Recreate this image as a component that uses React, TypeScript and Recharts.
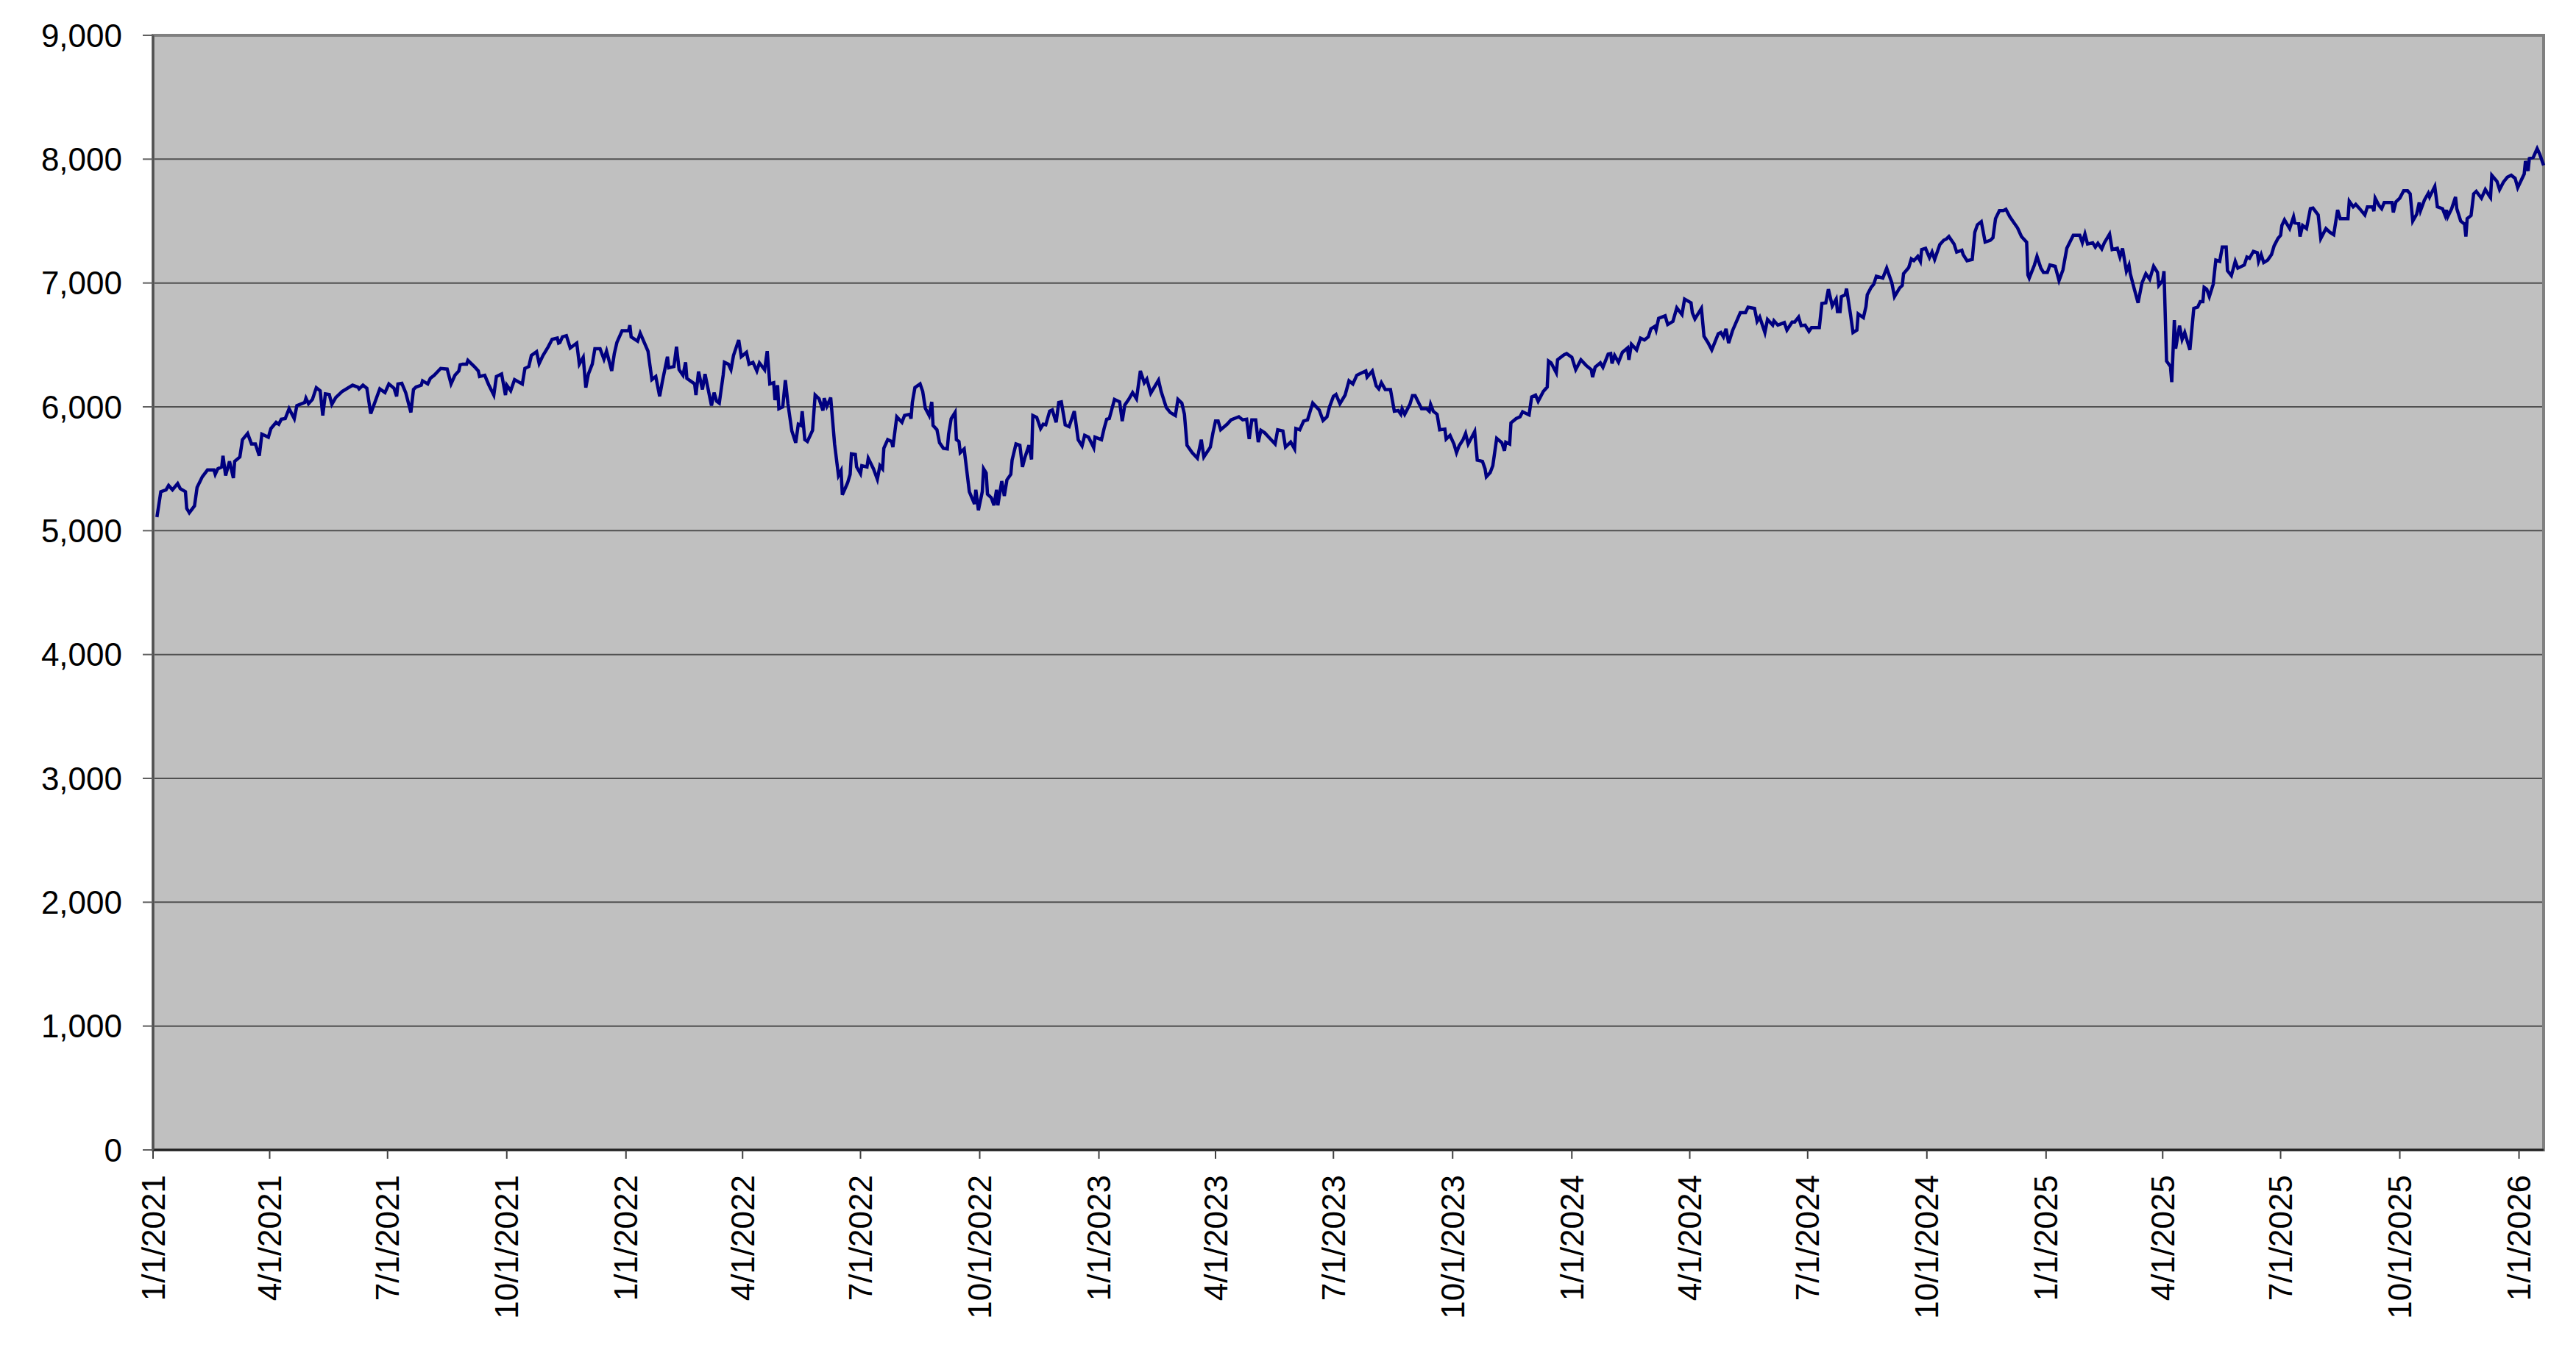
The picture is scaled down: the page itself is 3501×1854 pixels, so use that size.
import React from "react";
import { LineChart, Line, XAxis, YAxis, CartesianGrid, ReferenceArea } from "recharts";

// day offset from 1/1/2021, close value
const closes: [number, number][] = [
  [3, 5110], [6, 5315], [10, 5330], [12, 5365], [15, 5330], [19, 5380], [21, 5340], [25, 5315], [26, 5180], [28, 5145],
  [32, 5200], [34, 5350], [38, 5435], [42, 5490], [47, 5490], [48, 5455], [50, 5500], [53, 5515], [54, 5605], [56, 5445],
  [59, 5560], [62, 5425], [63, 5560], [67, 5595], [69, 5735], [73, 5785], [76, 5700], [79, 5700], [82, 5605], [84, 5780],
  [89, 5755], [91, 5825], [95, 5875], [97, 5860], [99, 5900], [102, 5905], [105, 5985], [109, 5905], [111, 6010], [117, 6035],
  [118, 6070], [120, 6025], [123, 6060], [126, 6155], [129, 6130], [131, 5930], [133, 6105], [136, 6100], [138, 6020], [141, 6075],
  [146, 6125], [154, 6175], [158, 6160], [159, 6145], [162, 6175], [165, 6150], [168, 5945], [172, 6060], [175, 6145], [179, 6115],
  [182, 6185], [186, 6150], [188, 6085], [189, 6185], [192, 6190], [195, 6115], [199, 5955], [201, 6140], [203, 6160], [207, 6175],
  [208, 6210], [212, 6185], [214, 6230], [217, 6255], [222, 6310], [227, 6305], [230, 6185], [233, 6255], [236, 6290], [237, 6340],
  [239, 6345], [242, 6345], [243, 6375], [248, 6325], [251, 6290], [252, 6245], [256, 6255], [259, 6180], [263, 6095], [265, 6245],
  [269, 6265], [272, 6095], [273, 6175], [276, 6130], [279, 6220], [285, 6185], [287, 6310], [290, 6325], [292, 6415], [296, 6445],
  [298, 6350], [301, 6415], [305, 6485], [308, 6545], [312, 6555], [313, 6515],
  [314, 6520], [316, 6565], [319, 6575], [322, 6475], [327, 6515], [329, 6345], [332, 6400], [334, 6155], [336, 6265], [339, 6345],
  [341, 6470], [345, 6470], [348, 6385], [350, 6450], [354, 6290], [356, 6430], [358, 6520], [362, 6615], [367, 6615], [368, 6660],
  [369, 6565], [374, 6530], [376, 6595], [382, 6450], [385, 6220], [388, 6245], [391, 6085], [393, 6200], [397, 6405], [398, 6315],
  [402, 6325], [404, 6485], [406, 6300], [409, 6255], [411, 6360], [412, 6230], [418, 6185], [419, 6095], [421, 6285], [424, 6140],
  [426, 6265], [431, 6010], [433, 6115], [435, 6045], [437, 6030], [440, 6255], [441, 6360], [444, 6345], [446, 6300], [448, 6415],
  [452, 6540], [454, 6405], [458, 6440], [460, 6345], [463, 6360], [466, 6290], [468, 6355], [472, 6300], [474, 6450], [476, 6185],
  [479, 6195], [480, 6055], [482, 6175], [483, 5985], [486, 6000], [488, 6215], [490, 6025], [493, 5805], [496, 5710], [498, 5860],
  [500, 5850], [501, 5965], [503, 5735], [505, 5720], [509, 5810], [511, 6095], [514, 6065], [517, 5970], [518, 6070], [520, 6005],
  [523, 6075], [526, 5700], [529, 5445], [531, 5485], [532, 5290], [536, 5385], [538, 5455], [539, 5620], [542, 5615], [543, 5515],
  [546, 5460], [547, 5525], [551, 5515], [552, 5585], [556, 5500], [559, 5415], [561, 5525], [563, 5500], [564, 5665], [567, 5735],
  [570, 5720], [571, 5675], [574, 5920], [578, 5875], [580, 5930], [584, 5940], [585, 5905], [586, 6035], [588, 6155], [592, 6185],
  [594, 6125], [596, 5990], [599, 5930], [601, 6040], [602, 5850], [605, 5815], [607, 5710], [610, 5665], [613, 5660], [614, 5780],
  [616, 5905], [619, 5955], [620, 5735],
  [622, 5720], [623, 5630], [626, 5660], [630, 5315], [634, 5215], [635, 5330], [637, 5165], [640, 5315], [641, 5500], [643, 5465],
  [644, 5295], [647, 5265], [649, 5205], [651, 5330], [652, 5205], [655, 5400], [657, 5280], [659, 5410], [662, 5455], [663, 5570],
  [666, 5700], [669, 5690], [671, 5515], [673, 5595], [676, 5690], [678, 5575], [679, 5930], [682, 5915], [685, 5825], [687, 5860],
  [689, 5855], [692, 5965], [694, 5975], [697, 5875], [699, 6035], [701, 6040], [704, 5855], [707, 5840], [711, 5965], [714, 5735],
  [717, 5685], [719, 5770], [722, 5755], [726, 5670], [727, 5755], [732, 5735], [734, 5825], [736, 5900], [738, 5905], [742, 6060],
  [746, 6040], [748, 5885], [750, 6015], [753, 6060], [756, 6115], [759, 6065], [762, 6290], [765, 6195], [767, 6225], [770, 6110],
  [776, 6215], [778, 6125], [782, 5995], [785, 5955], [789, 5930], [791, 6060], [794, 6030], [796, 5940], [798, 5690], [802, 5630],
  [806, 5585], [809, 5735], [811, 5595], [816, 5675], [818, 5790], [820, 5885], [822, 5885], [824, 5815], [829, 5860], [832, 5895],
  [838, 5920], [841, 5895], [844, 5900], [846, 5740], [848, 5895], [851, 5895], [853, 5715], [855, 5810], [858, 5790], [862, 5745],
  [866, 5700], [868, 5815], [872, 5805], [874, 5675], [878, 5715], [881, 5660], [882, 5825], [885, 5815], [888, 5885], [891, 5895],
  [895, 6030], [900, 5975], [903, 5890], [906, 5920], [908, 6000], [911, 6085], [913, 6100], [916, 6025], [920, 6095], [923, 6210],
  [926, 6185], [929, 6255], [932, 6270],
  [936, 6290], [937, 6240], [941, 6290], [944, 6170], [946, 6145], [948, 6195], [951, 6140], [955, 6140], [958, 5965], [961, 5970],
  [963, 5940], [964, 5985], [966, 5940], [970, 6020], [972, 6090], [974, 6090], [979, 5985], [983, 5985], [985, 5965], [986, 6020],
  [988, 5965], [991, 5940], [993, 5815], [997, 5820], [998, 5740], [1001, 5770], [1004, 5700], [1006, 5630], [1008, 5685], [1011, 5735],
  [1013, 5785], [1015, 5700], [1020, 5800], [1022, 5570], [1026, 5560], [1028, 5500], [1029, 5435], [1032, 5470], [1034, 5525], [1037, 5745],
  [1041, 5710], [1043, 5645], [1044, 5715], [1047, 5700], [1048, 5870], [1052, 5905], [1055, 5920], [1057, 5960], [1062, 5935], [1064, 6080],
  [1067, 6095], [1069, 6045], [1073, 6125], [1076, 6160], [1077, 6370], [1079, 6355], [1083, 6275], [1084, 6380], [1089, 6420], [1091, 6430],
  [1095, 6400], [1098, 6300], [1102, 6380], [1106, 6335], [1110, 6300], [1111, 6240], [1113, 6320], [1117, 6355], [1119, 6320], [1123, 6425],
  [1125, 6430], [1126, 6350], [1128, 6415], [1131, 6360], [1134, 6440], [1138, 6475], [1139, 6380], [1141, 6505], [1145, 6460], [1148, 6555],
  [1151, 6540], [1154, 6565], [1156, 6630], [1159, 6650], [1160, 6620], [1162, 6715], [1167, 6735], [1169, 6665], [1173, 6690], [1176, 6800],
  [1180, 6745], [1182, 6870], [1187, 6840], [1188, 6760], [1190, 6710], [1195, 6795], [1197, 6570], [1200, 6520], [1203, 6460], [1208, 6590],
  [1210, 6600], [1212, 6565], [1214, 6630], [1216, 6515], [1219, 6615], [1225, 6760], [1229, 6760], [1231, 6805], [1236, 6795], [1238, 6690],
  [1240, 6725], [1244, 6600], [1246, 6705],
  [1250, 6660], [1251, 6695], [1254, 6660], [1259, 6680], [1261, 6620], [1265, 6685], [1267, 6685], [1270, 6725], [1272, 6655], [1275, 6660],
  [1278, 6610], [1280, 6640], [1286, 6640], [1288, 6835], [1291, 6840], [1293, 6950], [1296, 6815], [1299, 6870], [1300, 6770], [1302, 6770],
  [1303, 6890], [1306, 6905], [1307, 6955], [1310, 6750], [1312, 6600], [1315, 6620], [1316, 6750], [1320, 6720], [1322, 6810], [1323, 6905],
  [1326, 6965], [1328, 6990], [1330, 7055], [1335, 7040], [1338, 7120], [1342, 7000], [1344, 6890], [1348, 6960], [1350, 6980], [1351, 7075],
  [1355, 7125], [1357, 7195], [1359, 7180], [1362, 7215], [1364, 7175], [1365, 7270], [1368, 7280], [1371, 7205], [1373, 7250], [1375, 7190],
  [1379, 7310], [1382, 7345], [1384, 7355], [1386, 7375], [1390, 7315], [1392, 7250], [1396, 7265], [1397, 7230], [1400, 7180], [1404, 7190],
  [1406, 7410], [1408, 7470], [1411, 7495], [1414, 7330], [1418, 7345], [1420, 7365], [1422, 7520], [1425, 7585], [1428, 7585], [1430, 7595],
  [1433, 7535], [1436, 7490], [1439, 7445], [1442, 7375], [1446, 7330], [1447, 7065], [1448, 7040], [1452, 7145], [1454, 7215], [1457, 7120],
  [1459, 7085], [1462, 7085], [1464, 7145], [1468, 7135], [1471, 7020], [1474, 7105], [1477, 7280], [1482, 7385], [1487, 7385], [1489, 7325],
  [1491, 7395], [1493, 7315], [1497, 7325], [1499, 7290], [1501, 7320], [1504, 7275], [1506, 7325], [1510, 7395], [1512, 7270], [1516, 7280],
  [1518, 7210], [1520, 7280], [1523, 7095], [1525, 7145], [1526, 7075], [1529, 6955], [1532, 6840], [1535, 7000], [1538, 7075], [1541, 7030],
  [1544, 7135], [1547, 7085], [1548, 6980], [1551, 7020], [1552, 7095], [1554, 6370], [1557, 6325], [1558, 6200],
  [1560, 6700], [1561, 6470], [1564, 6655], [1566, 6545], [1568, 6600], [1572, 6460], [1575, 6795], [1578, 6805], [1580, 6850], [1582, 6850],
  [1583, 6965], [1585, 6950], [1587, 6890], [1590, 6990], [1592, 7185], [1595, 7175], [1597, 7290], [1600, 7290], [1601, 7100], [1604, 7060],
  [1607, 7175], [1609, 7120], [1614, 7145], [1616, 7210], [1618, 7200], [1621, 7255], [1624, 7245], [1625, 7175], [1627, 7230], [1629, 7165],
  [1632, 7185], [1635, 7230], [1637, 7300], [1640, 7360], [1642, 7385], [1643, 7465], [1645, 7510], [1649, 7440], [1652, 7535], [1653, 7485],
  [1656, 7480], [1657, 7375], [1659, 7465], [1662, 7440], [1665, 7600], [1667, 7605], [1671, 7550], [1673, 7360], [1677, 7440], [1680, 7410],
  [1683, 7390], [1686, 7590], [1688, 7520], [1691, 7520], [1694, 7520], [1695, 7660], [1698, 7615], [1700, 7635], [1703, 7600], [1707, 7550],
  [1709, 7615], [1713, 7615], [1714, 7580], [1715, 7685], [1718, 7625], [1720, 7600], [1722, 7650], [1728, 7650], [1729, 7570], [1731, 7655],
  [1734, 7685], [1737, 7745], [1740, 7745], [1742, 7720], [1744, 7500], [1747, 7555], [1749, 7650], [1750, 7585], [1753, 7670], [1756, 7725],
  [1757, 7695], [1761, 7780], [1763, 7615], [1767, 7600], [1769, 7545], [1770, 7590], [1771, 7535], [1774, 7600], [1777, 7695], [1778, 7600],
  [1781, 7500], [1784, 7475], [1785, 7375], [1786, 7520], [1789, 7545], [1791, 7720], [1793, 7740], [1797, 7685], [1800, 7755], [1803, 7705],
  [1804, 7690], [1805, 7870], [1809, 7820], [1811, 7755], [1814, 7815], [1817, 7855], [1820, 7870], [1823, 7845], [1825, 7770], [1830, 7880],
  [1831, 7985], [1833, 7905], [1834, 8005], [1837, 8015], [1840, 8085], [1842, 8040], [1845, 7950],
];

const dateTicks = [
  "1/1/2021", "4/1/2021", "7/1/2021", "10/1/2021",
  "1/1/2022", "4/1/2022", "7/1/2022", "10/1/2022",
  "1/1/2023", "4/1/2023", "7/1/2023", "10/1/2023",
  "1/1/2024", "4/1/2024", "7/1/2024", "10/1/2024",
  "1/1/2025", "4/1/2025", "7/1/2025", "10/1/2025",
  "1/1/2026",
];

const valueTicks = [0, 1000, 2000, 3000, 4000, 5000, 6000, 7000, 8000, 9000];

const START = Date.UTC(2021, 0, 1);
const DAY = 86400000;

const toDay = (s: string) => {
  const [m, d, y] = s.split("/").map(Number);
  return Math.round((Date.UTC(y, m - 1, d) - START) / DAY);
};

const fmtDate = (day: number) => {
  const t = new Date(START + day * DAY);
  return `${t.getUTCMonth() + 1}/${t.getUTCDate()}/${t.getUTCFullYear()}`;
};

const xTicks = dateTicks.map(toDay);
const lastDay = closes[closes.length - 1][0];
const data = closes.map(([d, v]) => ({ d, v }));

const font = "'Liberation Sans', Arial, sans-serif";

function DateTick({ x, y, payload }: any) {
  return (
    <text
      x={x}
      y={y}
      transform={`rotate(-90, ${x}, ${y})`}
      textAnchor="end"
      dominantBaseline="central"
      fontSize={44}
      fontFamily={font}
      fill="#000"
    >
      {fmtDate(payload.value)}
    </text>
  );
}

export default function App() {
  return (
    <div style={{ width: 3485, height: 1838, background: "#fff" }}>
      <LineChart width={3485} height={1838} data={data} margin={{ top: 40, right: 36, bottom: 0, left: 0 }}>
        <CartesianGrid vertical={false} fill="#C0C0C0" stroke="#505050" strokeWidth={2} />
        <ReferenceArea x1={0} x2={lastDay} y1={0} y2={9000} fill="none" stroke="#808080" strokeWidth={4} />
        <XAxis
          dataKey="d"
          type="number"
          domain={[0, lastDay]}
          ticks={xTicks}
          interval={0}
          height={283}
          tickSize={12}
          tickMargin={22}
          tick={<DateTick />}
          axisLine={{ stroke: "#202020", strokeWidth: 3 }}
          tickLine={{ stroke: "#404040", strokeWidth: 2 }}
        />
        <YAxis
          type="number"
          domain={[0, 9000]}
          ticks={valueTicks}
          interval={0}
          width={200}
          tickSize={14}
          tickMargin={28}
          tickFormatter={(v: number) => v.toLocaleString("en-US")}
          tick={{ fontSize: 44, fontFamily: font, fill: "#000" }}
          axisLine={{ stroke: "#505050", strokeWidth: 3 }}
          tickLine={{ stroke: "#606060", strokeWidth: 2 }}
        />
        <Line
          type="linear"
          dataKey="v"
          stroke="#000080"
          strokeWidth={4.5}
          dot={false}
          isAnimationActive={false}
        />
      </LineChart>
    </div>
  );
}
